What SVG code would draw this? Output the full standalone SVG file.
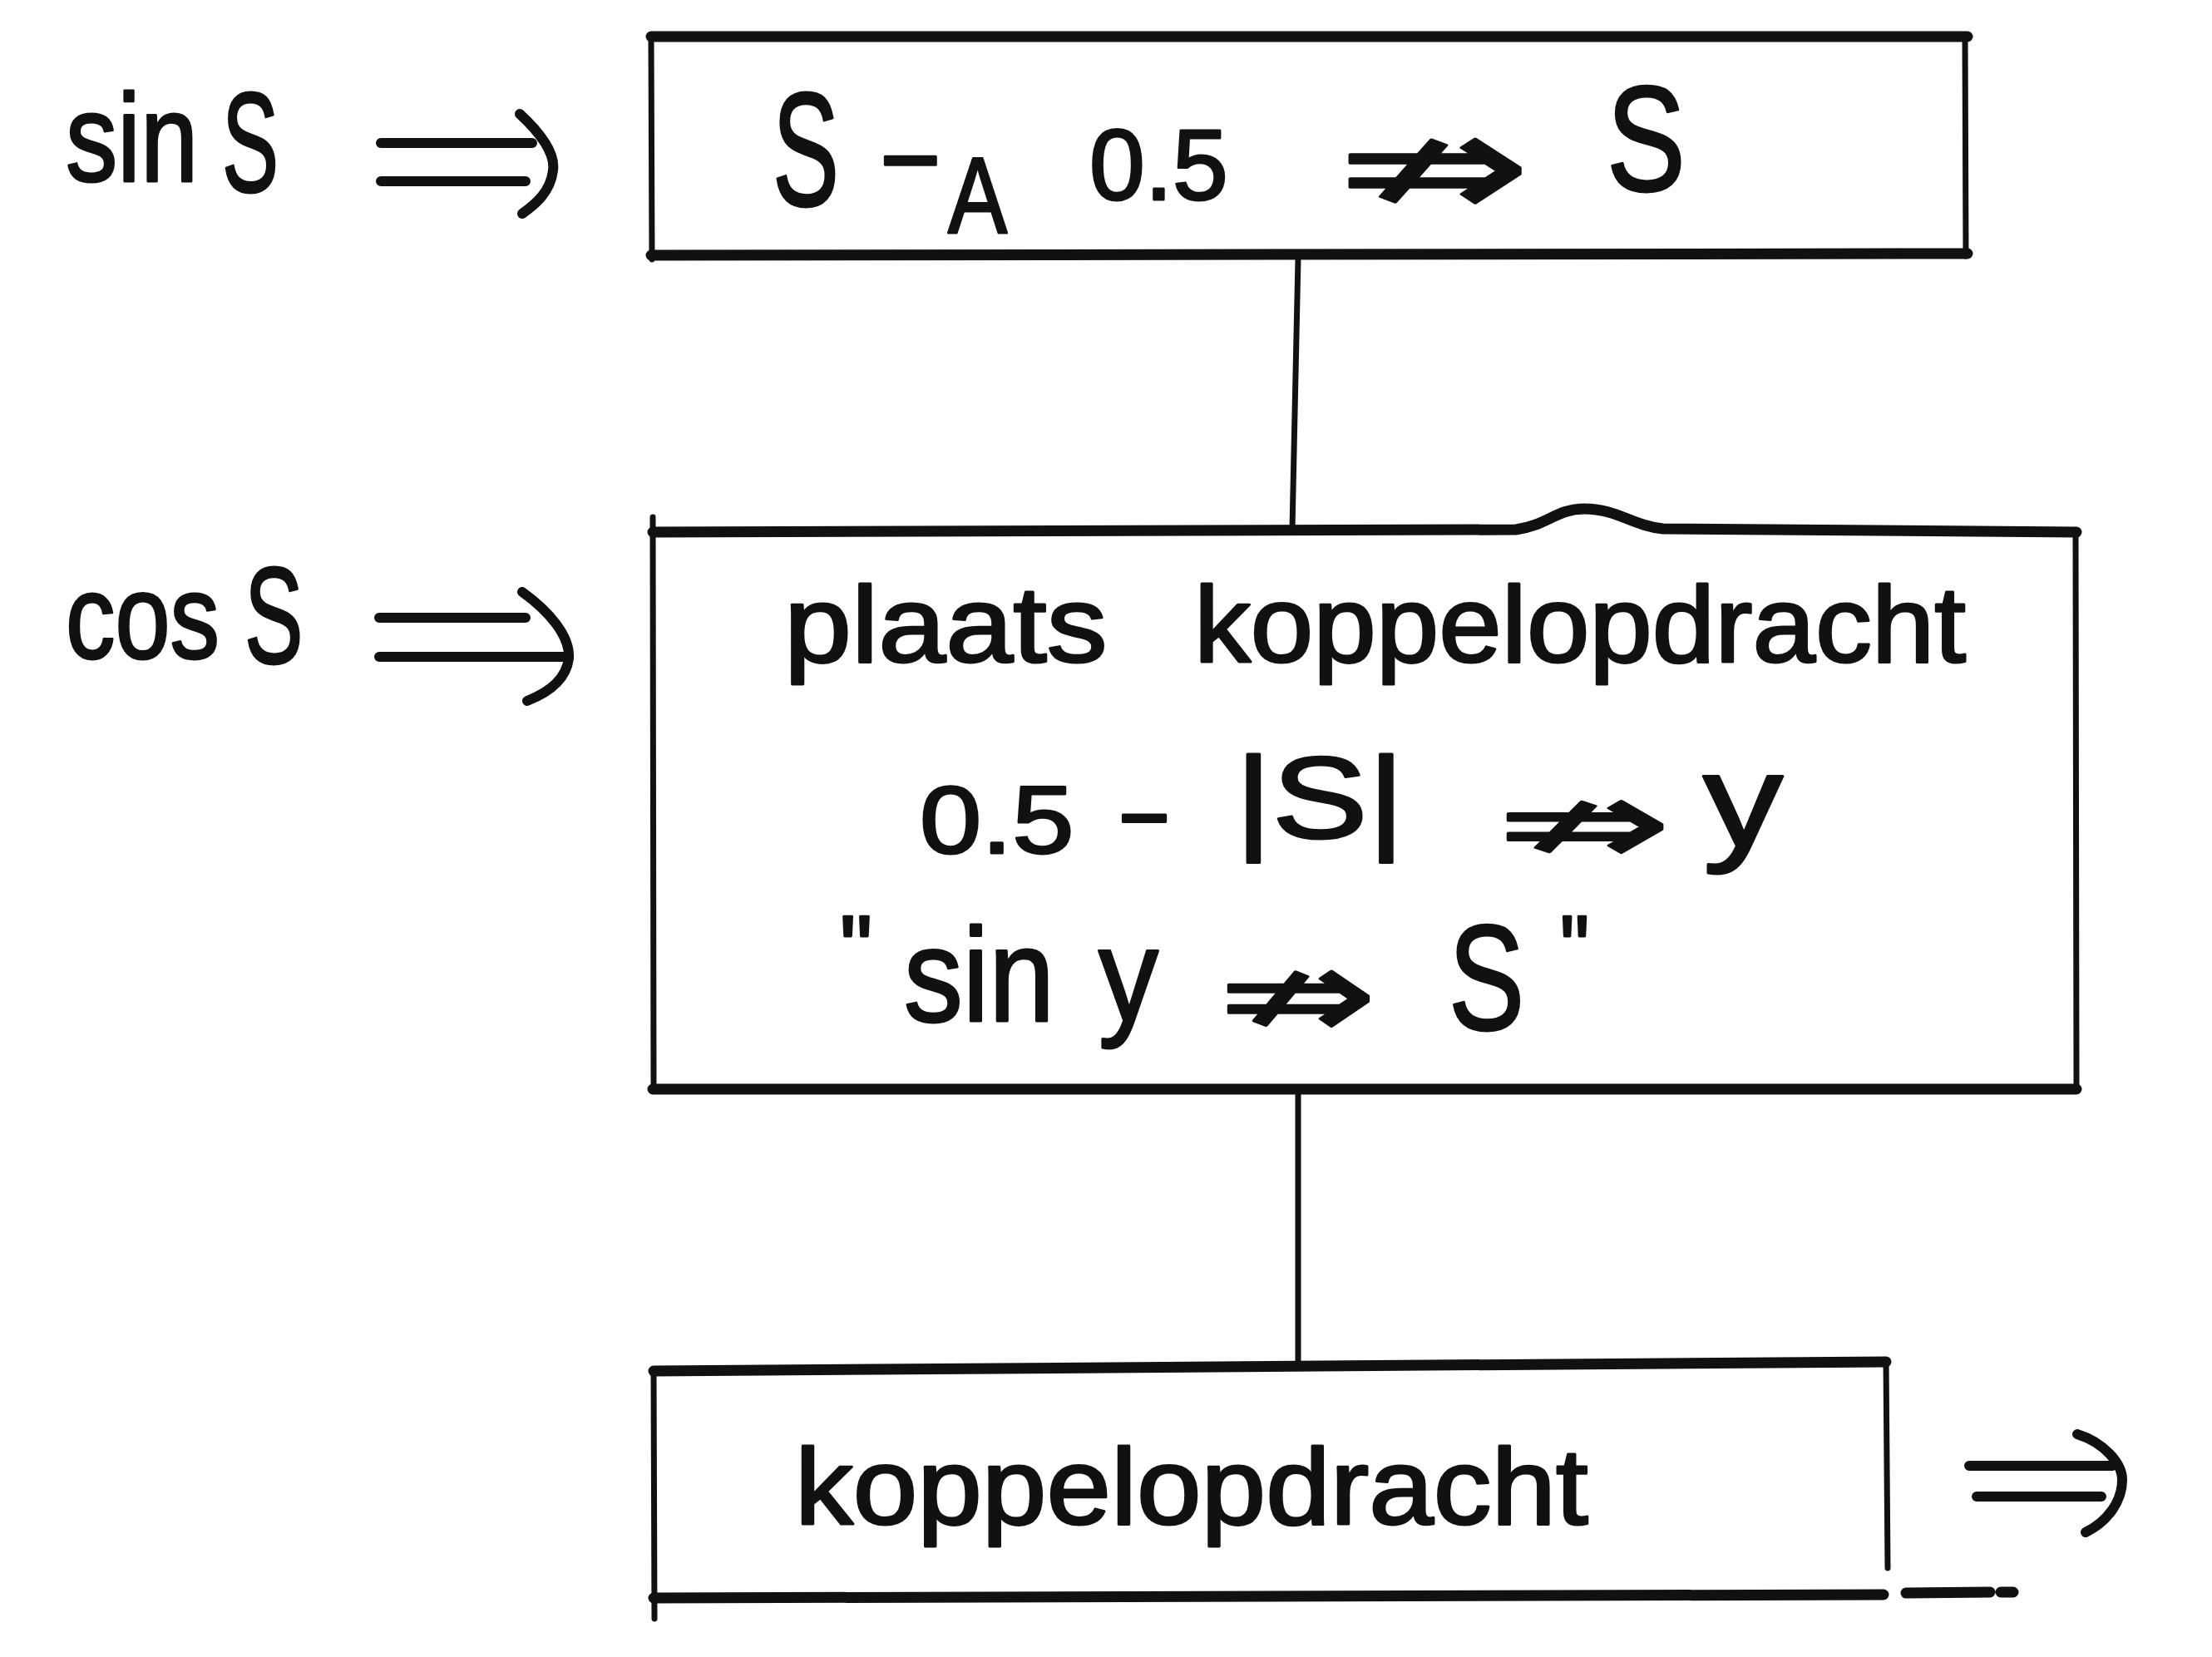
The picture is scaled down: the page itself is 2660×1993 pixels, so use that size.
<svg xmlns="http://www.w3.org/2000/svg" width="2660" height="1993" viewBox="0 0 2660 1993">
<style>
.bg{fill:#ffffff}
.edge{fill:none;stroke:#111;stroke-width:7;stroke-linecap:round;stroke-linejoin:round}
.thick{fill:none;stroke:#111;stroke-width:13;stroke-linecap:round;stroke-linejoin:round}
.conn{fill:none;stroke:#111;stroke-width:7;stroke-linecap:round}
.arr{fill:none;stroke:#111;stroke-width:12;stroke-linecap:round;stroke-linejoin:round}
.t{font-family:"Liberation Sans","Noto Sans",Arial,sans-serif;fill:#111;stroke:#111;stroke-width:3;stroke-linejoin:round}
.sym{font-family:"DejaVu Sans","Noto Sans",sans-serif;fill:#111;stroke:#111;stroke-width:3;stroke-linejoin:round}
</style>
<rect class="bg" x="0" y="0" width="2660" height="1993"/>

<g id="input-sin">
  <text class="t" transform="translate(79,218) scale(0.83,1)" font-size="150">sin</text>
  <text class="t" transform="translate(267,230) scale(0.6,1)" font-size="170">S</text>
</g>

<g id="input-cos">
  <text class="t" transform="translate(79,792) scale(0.82,1)" font-size="145">cos</text>
  <text class="t" transform="translate(294,797) scale(0.64,1)" font-size="165">S</text>
</g>

<g id="node-box1">
  <path class="edge" d="M783 44 L784 312 M2363 44 L2364 308"/>
  <path class="thick" d="M783 44 L2366 44 M783 307 L2366 305"/>
  <text class="t" transform="translate(929,247) scale(0.615,1)" font-size="195">S</text>
  <text class="t" transform="translate(1058,240) scale(0.9,1)" font-size="140">−</text>
  <text class="t" transform="translate(1140,280) scale(0.82,1)" font-size="130">A</text>
  <text class="t" x="1310" y="240" font-size="120">0.5</text>
  <text class="sym" x="1608" y="262" font-size="180" textLength="233" lengthAdjust="spacingAndGlyphs">⇏</text>
  <text class="t" transform="translate(1932,229) scale(0.79,1)" font-size="180">S</text>
</g>

<g id="node-box2">
  <path class="edge" d="M785 622 L786 1312 M2496 638 L2497 1310"/>
  <path class="thick" d="M785 640 L1823 637 C1860 632 1872 612 1905 612 C1945 612 1962 632 2000 636 L2497 640 M785 1310 L2497 1310"/>
  <text class="t" transform="translate(943,796) scale(1.12,1)" font-size="130">plaats</text>
  <text class="t" transform="translate(1436,796) scale(1.044,1)" font-size="130">koppelopdracht</text>
  <text class="t" transform="translate(1106,1026) scale(1.16,1)" font-size="115">0.5</text>
  <text class="t" transform="translate(1345,1024) scale(0.885,1)" font-size="120">−</text>
  <text class="t" transform="translate(1485,1008) scale(1.23,1)" font-size="140">|S|</text>
  <text class="sym" x="1800" y="1040" font-size="145" textLength="210" lengthAdjust="spacingAndGlyphs">⇏</text>
  <text class="t" transform="translate(2048,1018) scale(1.2,1)" font-size="160">y</text>
  <text class="t" x="1010" y="1178" font-size="110">"</text>
  <text class="t" transform="translate(1087,1228) scale(0.885,1)" font-size="160">sin</text>
  <text class="t" transform="translate(1321,1228) scale(0.9,1)" font-size="160">y</text>
  <text class="sym" x="1465" y="1250" font-size="155" textLength="191" lengthAdjust="spacingAndGlyphs">⇏</text>
  <text class="t" transform="translate(1742,1238) scale(0.76,1)" font-size="180">S</text>
  <text class="t" transform="translate(1876,1178) scale(0.9,1)" font-size="110">"</text>
</g>

<g id="node-box3">
  <path class="edge" d="M786 1647 L787 1947 M2268 1638 L2270 1886"/>
  <path class="thick" d="M786 1649 L2268 1638 M786 1922 L2265 1918"/>
  <path class="thick" d="M2292 1916 L2393 1915 M2406 1915 L2421 1915"/>
  <text class="t" transform="translate(956,1833) scale(1.073,1)" font-size="130">koppelopdracht</text>
</g>

<g id="connectors">
  <path class="conn" d="M1561 311 L1554 637"/>
  <path class="conn" d="M1561 1312 L1561 1645"/>
  <path class="arr" d="M458 172 L640 172 M458 218 L632 218 M625 137 C650 160 668 185 665 205 C662 230 645 245 628 257"/>
  <path class="arr" d="M456 743 L632 743 M456 790 L678 790 M628 712 C660 735 686 765 684 792 C681 815 662 832 634 843"/>
  <path class="arr" d="M2368 1763 L2540 1763 M2377 1800 L2527 1800 M2498 1725 C2530 1735 2552 1760 2552 1780 C2552 1805 2535 1830 2508 1843"/>
</g>
</svg>
